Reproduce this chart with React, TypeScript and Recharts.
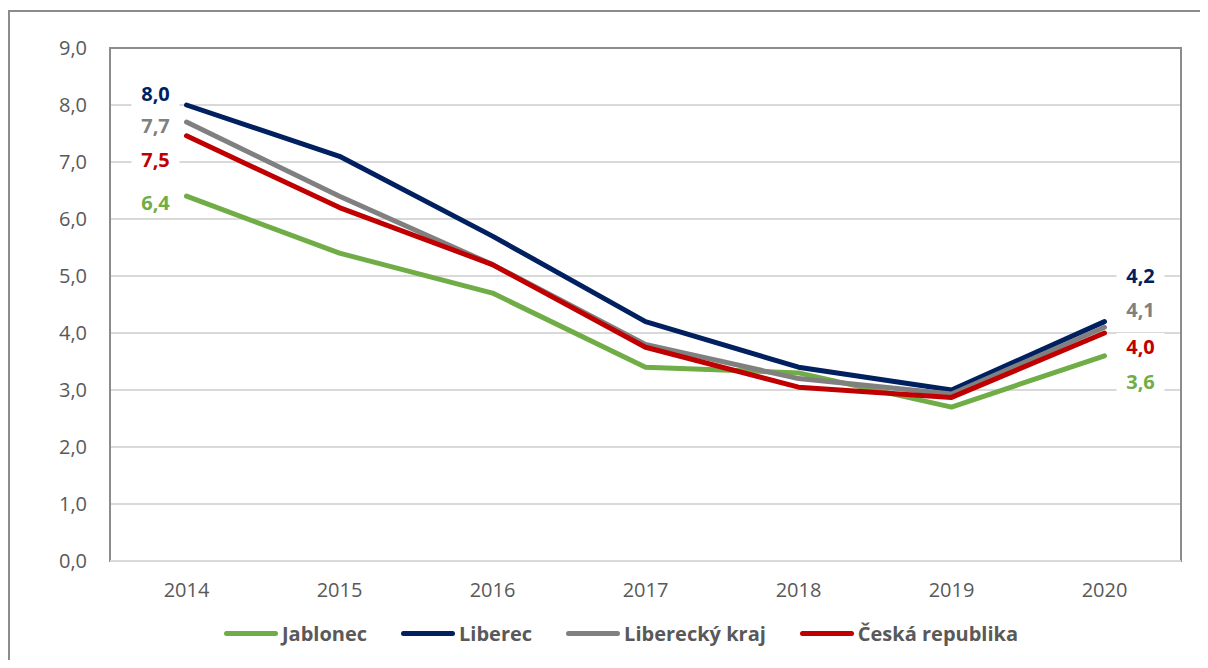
import { LineChart, Line, XAxis, YAxis, CartesianGrid, Legend, ReferenceArea, ReferenceLine } from "recharts";

const years = ["2014", "2015", "2016", "2017", "2018", "2019", "2020"];
const jablonec = [6.4, 5.4, 4.7, 3.4, 3.3, 2.7, 3.6];
const liberec = [8.0, 7.1, 5.7, 4.2, 3.4, 3.0, 4.2];
const libereckyKraj = [7.7, 6.4, 5.2, 3.8, 3.2, 2.93, 4.1];
const ceskaRepublika = [7.46, 6.2, 5.2, 3.75, 3.05, 2.87, 4.0];
const yTicks = [0, 1, 2, 3, 4, 5, 6, 7, 8, 9];

const data = years.map((year, i) => ({
  year,
  jablonec: jablonec[i],
  liberec: liberec[i],
  kraj: libereckyKraj[i],
  cr: ceskaRepublika[i],
}));

const FONT = "'Open Sans', 'Noto Sans', sans-serif";
const fmt = (v: number) => v.toFixed(1).replace(".", ",");

// end labels are nudged by hand like in the original sheet
const series = [
  { key: "jablonec", name: "Jablonec", color: "#70AD47", first: 7, last: 26 },
  { key: "liberec", name: "Liberec", color: "#002060", first: -11, last: -46 },
  { key: "kraj", name: "Liberecký kraj", color: "#808080", first: 4, last: -17 },
  { key: "cr", name: "Česká republika", color: "#C00000", first: 24, last: 14 },
];

function endLabel(s: (typeof series)[number]) {
  return (props: any) => {
    const { x, y, value, index } = props;
    if (index !== 0 && index !== years.length - 1) return <g />;
    const cx = index === 0 ? x - 31 : x + 36;
    const cy = y + (index === 0 ? s.first : s.last);
    return (
      <g>
        <rect x={cx - 24} y={cy - 14} width={48} height={28} fill="#fff" />
        <text
          x={cx}
          y={cy}
          dy="0.355em"
          textAnchor="middle"
          fill={s.color}
          fontFamily={FONT}
          fontWeight={700}
          fontSize={20}
        >
          {fmt(value)}
        </text>
      </g>
    );
  };
}

function LegendContent({ payload }: any) {
  return (
    <div style={{ display: "flex", justifyContent: "center", alignItems: "center", fontFamily: FONT }}>
      {(payload || []).map((p: any) => (
        <div key={p.value} style={{ display: "flex", alignItems: "center", margin: "0 17px" }}>
          <span
            style={{
              display: "inline-block",
              width: 54,
              height: 5,
              borderRadius: 3,
              background: p.color,
              marginRight: 4,
            }}
          />
          <span style={{ fontSize: 20, fontWeight: 700, color: "#595959" }}>{p.value}</span>
        </div>
      ))}
    </div>
  );
}

export default function App() {
  return (
    <div style={{ paddingTop: 2 }}>
      <div
        style={{
          width: 1198,
          height: 648,
          borderTop: "2px solid #8c8c8c",
          borderLeft: "2px solid #8c8c8c",
          background: "#fff",
        }}
      >
        <LineChart width={1190} height={648} data={data} margin={{ top: 36, right: 19, left: 10, bottom: 49 }}>
          <CartesianGrid vertical={false} stroke="#d9d9d9" strokeWidth={2} />
          <ReferenceArea y1={0} y2={9} fill="none" stroke="#8c8c8c" strokeWidth={2} />
          <ReferenceLine y={0} stroke="#d9d9d9" strokeWidth={2} />
          <XAxis
            dataKey="year"
            scale="band"
            axisLine={false}
            tickLine={false}
            tickSize={0}
            tickMargin={22}
            height={50}
            tick={{ fill: "#595959", fontSize: 20, fontFamily: FONT }}
          />
          <YAxis
            domain={[0, 9]}
            ticks={yTicks}
            interval={0}
            axisLine={false}
            tickLine={false}
            tickSize={0}
            tickMargin={23}
            width={90}
            tickFormatter={fmt}
            tick={{ fill: "#595959", fontSize: 20, fontFamily: FONT }}
          />
          <Legend
            verticalAlign="middle"
            align="center"
            layout="horizontal"
            content={<LegendContent />}
            wrapperStyle={{ top: 608, left: 32, width: 1158 }}
          />
          {series.map((s) => (
            <Line
              key={s.key}
              type="linear"
              dataKey={s.key}
              name={s.name}
              stroke={s.color}
              strokeWidth={5}
              strokeLinecap="round"
              strokeLinejoin="round"
              dot={false}
              activeDot={false}
              isAnimationActive={false}
              label={endLabel(s)}
            />
          ))}
        </LineChart>
      </div>
    </div>
  );
}
